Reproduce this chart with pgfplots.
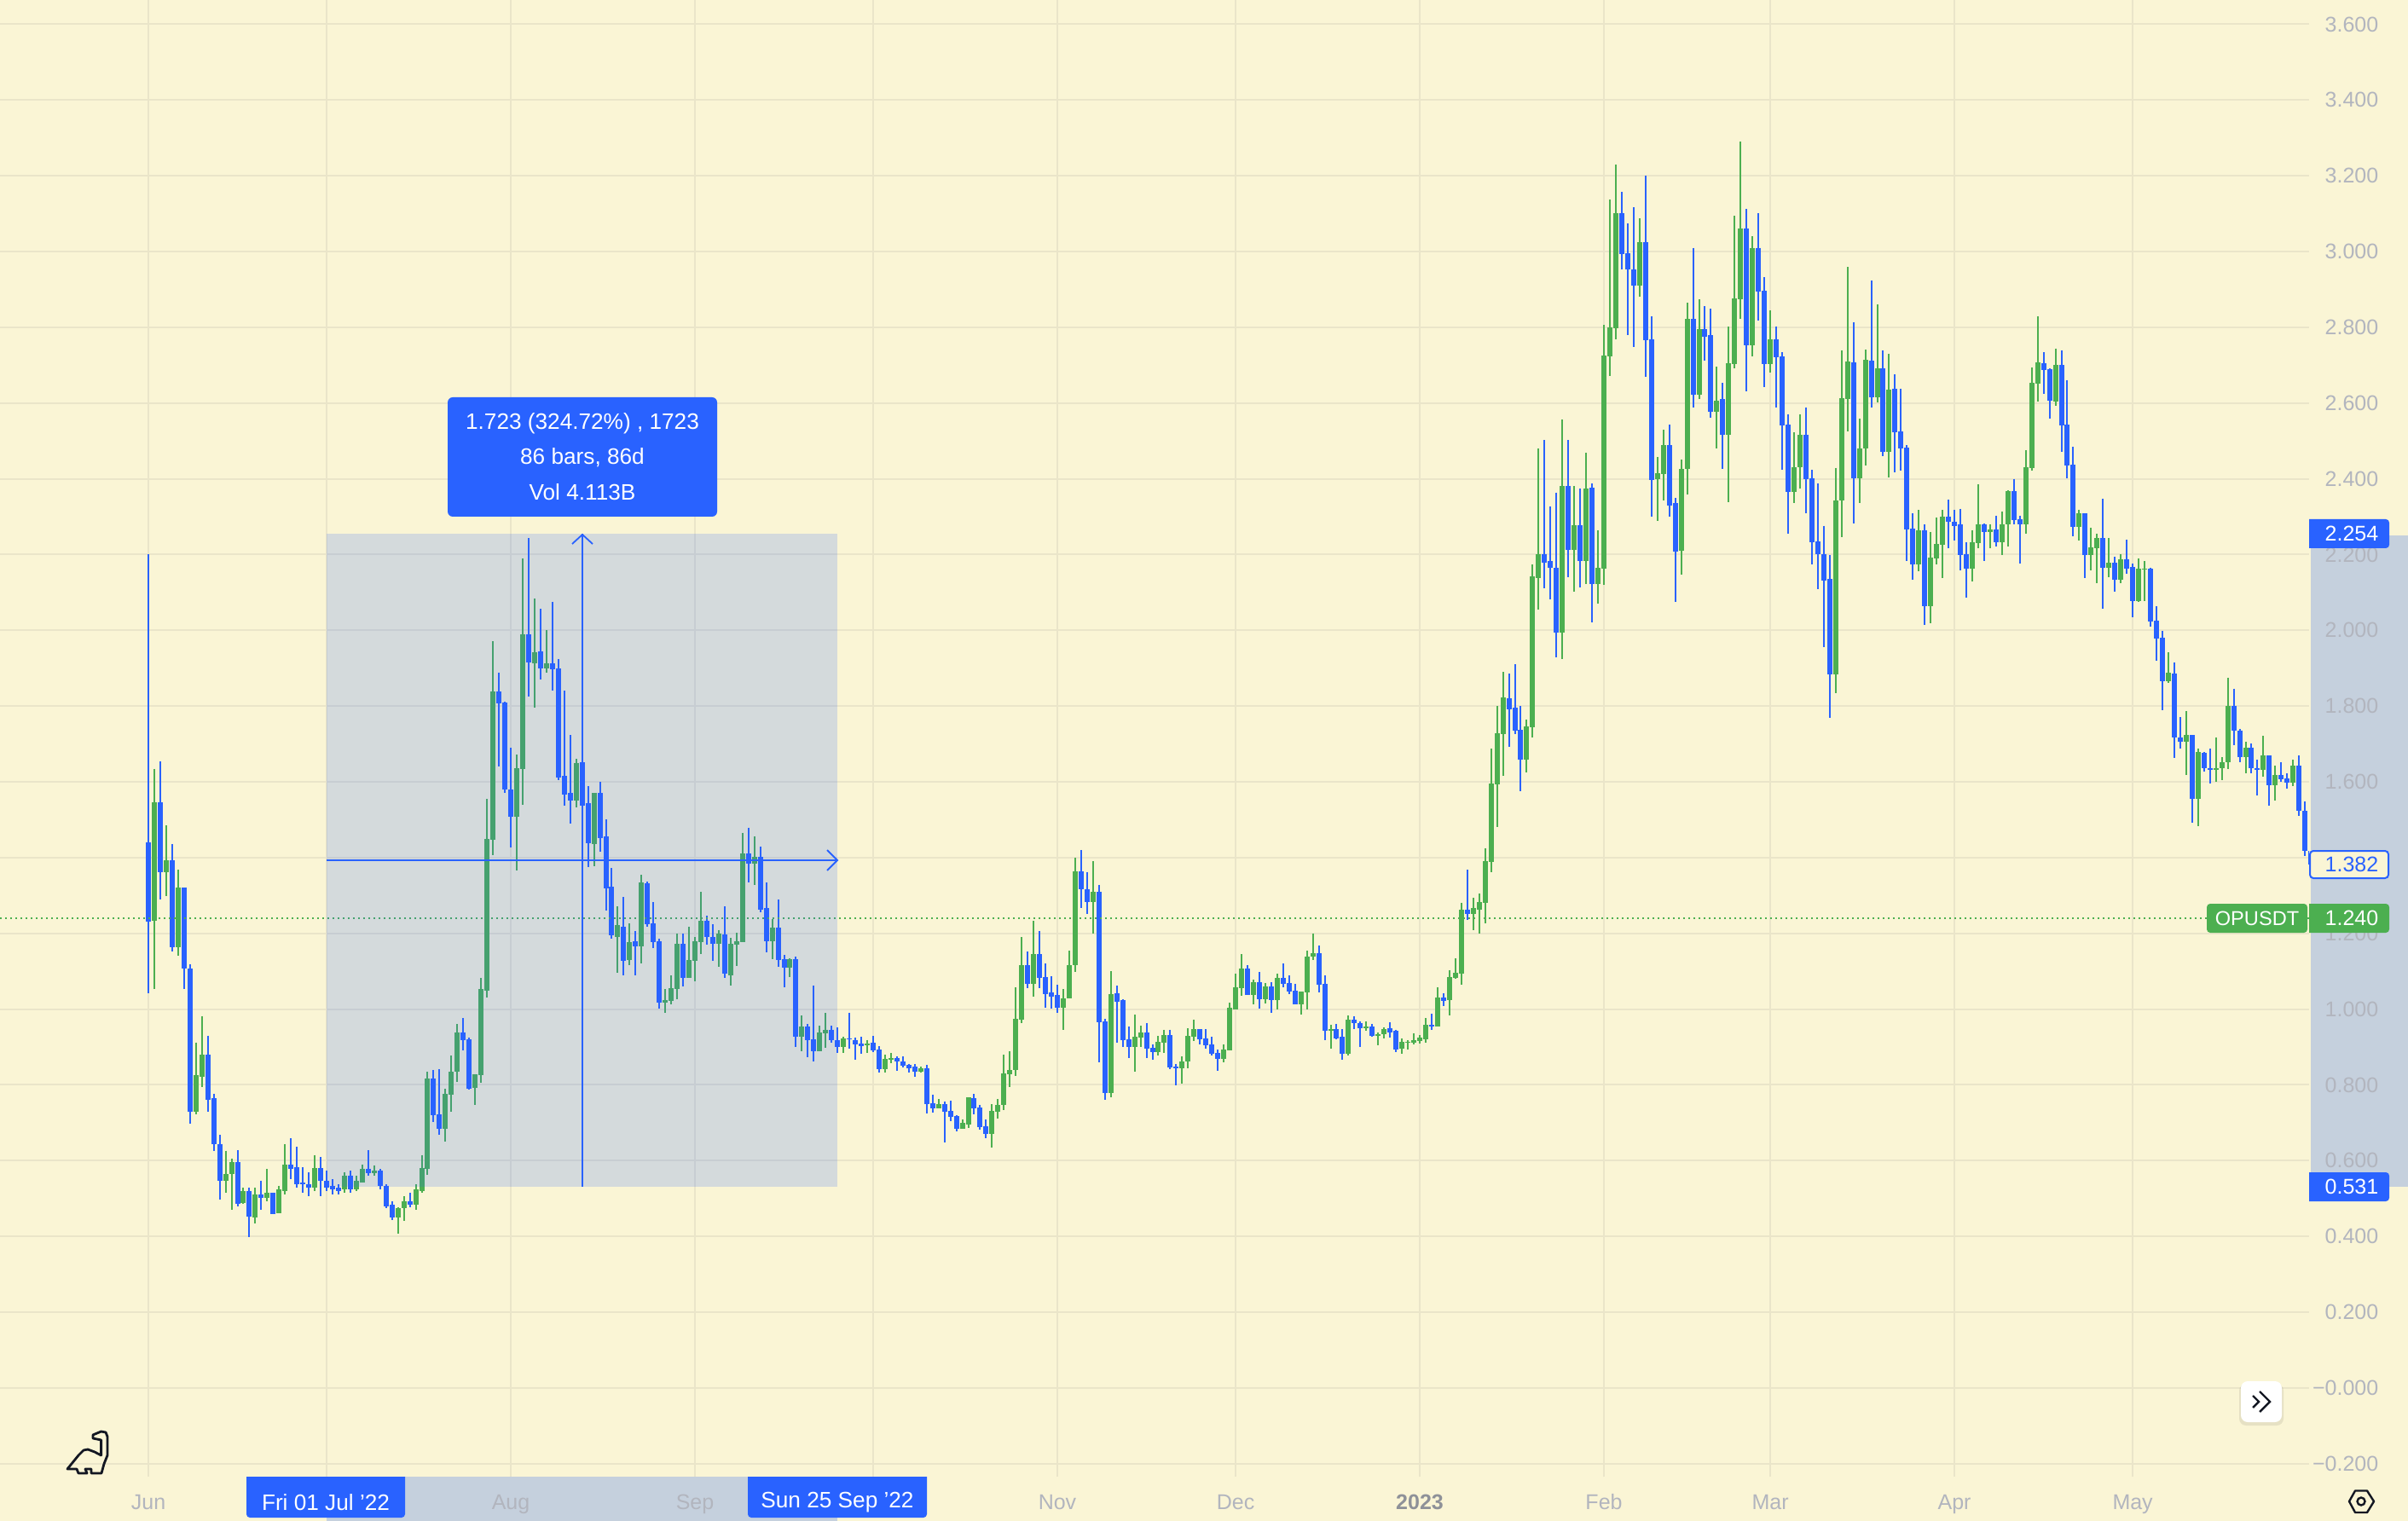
\documentclass[border=0pt]{standalone}
\usepackage{fontspec}
\setmainfont{Liberation Sans}
\usepackage{pgfplots}
\usepackage{pgfplotstable}
\pgfplotsset{compat=1.18}
\definecolor{bg}{HTML}{FAF5D5}
\definecolor{tvblue}{HTML}{2962FF}
\definecolor{tvgreen}{HTML}{4CAF50}
\definecolor{gridc}{HTML}{EAE5C9}
\definecolor{axc}{HTML}{B2B5BE}
\definecolor{band}{HTML}{C5D0DD}
\definecolor{ink}{HTML}{131722}
\newcommand{\labfont}{\fontsize{6.25}{7.5}\selectfont}
\newcommand{\tagfont}{\fontsize{6.55}{8}\selectfont}

% d = days since 1 Jun 2022; hi, body top, body bottom, lo
\pgfplotstableread{
d hi top bot lo
1 1.634 1.546 1.234 1.052
3 1.485 1.392 1.361 1.298
5 1.368 1.321 1.164 1.141
8 0.912 0.825 0.729 0.723
9 0.982 0.880 0.822 0.795
13 0.626 0.565 0.546 0.514
14 0.604 0.595 0.564 0.471
16 0.529 0.519 0.489 0.486
18 0.529 0.510 0.449 0.435
20 0.577 0.516 0.501 0.492
22 0.534 0.523 0.462 0.462
23 0.644 0.590 0.520 0.511
28 0.615 0.581 0.528 0.519
33 0.570 0.561 0.523 0.514
35 0.559 0.546 0.523 0.519
36 0.590 0.579 0.541 0.541
38 0.588 0.574 0.566 0.559
42 0.477 0.475 0.449 0.406
43 0.505 0.493 0.474 0.441
45 0.537 0.523 0.483 0.471
46 0.615 0.581 0.520 0.516
47 0.834 0.816 0.578 0.562
50 0.789 0.776 0.683 0.650
51 0.877 0.834 0.774 0.730
52 0.960 0.939 0.834 0.807
55 0.829 0.827 0.791 0.746
56 1.082 1.052 0.826 0.805
57 1.554 1.449 1.049 1.030
58 1.971 1.838 1.446 1.406
62 1.671 1.635 1.507 1.365
63 2.190 1.990 1.633 1.540
65 2.083 1.943 1.913 1.795
67 2.000 1.912 1.899 1.889
72 1.660 1.650 1.551 1.532
75 1.570 1.570 1.435 1.378
79 1.271 1.221 1.191 1.095
81 1.226 1.176 1.129 1.117
83 1.354 1.334 1.165 1.120
87 1.052 1.023 1.017 0.989
88 1.088 1.055 1.021 1.012
89 1.199 1.172 1.052 1.026
91 1.217 1.129 1.082 1.082
92 1.190 1.178 1.127 1.073
93 1.309 1.233 1.176 1.145
96 1.209 1.199 1.172 1.111
98 1.188 1.172 1.090 1.063
99 1.201 1.178 1.171 1.113
100 1.466 1.410 1.176 1.176
102 1.457 1.401 1.385 1.327
105 1.237 1.215 1.180 1.132
108 1.135 1.132 1.109 1.084
110 0.983 0.954 0.928 0.888
113 0.956 0.938 0.888 0.888
114 0.989 0.946 0.935 0.898
117 0.927 0.922 0.901 0.885
121 0.919 0.910 0.905 0.884
124 0.880 0.868 0.841 0.832
125 0.884 0.871 0.866 0.857
130 0.848 0.844 0.834 0.832
133 0.762 0.749 0.738 0.738
137 0.708 0.699 0.684 0.684
138 0.767 0.767 0.695 0.686
142 0.749 0.731 0.670 0.634
143 0.762 0.747 0.729 0.711
144 0.880 0.830 0.747 0.733
145 0.889 0.839 0.828 0.794
146 1.058 0.974 0.839 0.823
147 1.190 1.116 0.972 0.963
149 1.233 1.145 1.067 1.033
154 1.053 1.028 1.003 0.945
155 1.154 1.116 1.028 1.028
156 1.400 1.364 1.116 1.098
159 1.391 1.310 1.283 1.200
162 1.100 1.040 0.778 0.767
166 0.985 0.927 0.900 0.834
167 0.956 0.938 0.925 0.900
170 0.929 0.913 0.886 0.877
171 0.945 0.931 0.911 0.884
174 0.875 0.862 0.844 0.803
175 0.949 0.929 0.862 0.844
176 0.972 0.947 0.927 0.916
181 0.907 0.893 0.868 0.859
182 1.017 1.003 0.891 0.891
183 1.094 1.058 0.999 0.999
184 1.145 1.107 1.055 1.035
186 1.078 1.071 1.037 1.012
188 1.069 1.060 1.026 1.015
190 1.094 1.082 1.024 0.999
194 1.046 1.046 1.012 0.985
195 1.154 1.139 1.044 0.999
196 1.200 1.148 1.139 1.130
199 0.958 0.947 0.943 0.895
202 0.983 0.972 0.882 0.877
205 0.967 0.954 0.949 0.943
207 0.938 0.934 0.929 0.904
208 0.952 0.947 0.934 0.922
211 0.922 0.913 0.895 0.882
212 0.918 0.914 0.911 0.893
213 0.936 0.918 0.911 0.907
214 0.931 0.925 0.916 0.909
215 0.976 0.958 0.920 0.911
217 1.058 1.031 0.954 0.954
219 1.103 1.085 1.024 0.983
220 1.134 1.096 1.082 1.080
221 1.281 1.263 1.094 1.064
223 1.294 1.267 1.251 1.208
224 1.305 1.283 1.263 1.200
225 1.425 1.391 1.281 1.227
226 1.688 1.596 1.389 1.362
227 1.800 1.728 1.593 1.481
228 1.890 1.822 1.726 1.616
232 1.764 1.746 1.658 1.625
233 2.173 2.142 1.744 1.717
234 2.479 2.202 2.137 2.055
238 2.556 2.380 1.993 1.925
240 2.380 2.278 2.213 2.101
242 2.468 2.375 2.184 2.123
244 2.265 2.166 2.123 2.071
245 2.806 2.725 2.162 2.119
246 3.137 2.799 2.723 2.671
247 3.229 3.101 2.797 2.768
251 3.087 3.024 2.910 2.880
254 2.458 2.415 2.398 2.288
255 2.530 2.488 2.413 2.342
258 2.450 2.427 2.211 2.146
259 2.864 2.822 2.425 2.359
261 2.873 2.795 2.621 2.610
264 2.696 2.607 2.576 2.481
266 2.801 2.704 2.517 2.339
267 3.094 2.876 2.702 2.691
268 3.290 3.060 2.873 2.822
270 3.040 3.010 2.752 2.723
273 2.844 2.769 2.702 2.680
277 2.522 2.431 2.366 2.335
278 2.569 2.517 2.430 2.374
284 2.429 2.343 1.884 1.833
285 2.739 2.613 2.343 2.245
286 2.959 2.710 2.611 2.526
288 2.559 2.481 2.402 2.335
289 2.741 2.714 2.481 2.435
291 2.860 2.692 2.615 2.602
293 2.730 2.636 2.472 2.404
298 2.317 2.263 2.175 2.157
300 2.260 2.193 2.064 2.018
301 2.298 2.228 2.190 2.175
302 2.317 2.301 2.226 2.139
307 2.265 2.233 2.163 2.128
308 2.386 2.280 2.231 2.217
310 2.280 2.267 2.260 2.217
312 2.314 2.280 2.233 2.199
313 2.370 2.368 2.279 2.222
316 2.476 2.431 2.279 2.255
317 2.694 2.653 2.429 2.422
318 2.829 2.707 2.651 2.604
321 2.744 2.701 2.604 2.593
325 2.319 2.308 2.274 2.236
327 2.271 2.220 2.199 2.159
328 2.255 2.244 2.217 2.125
330 2.244 2.179 2.166 2.141
332 2.201 2.188 2.134 2.125
335 2.190 2.163 2.078 2.074
336 2.182 2.163 2.161 2.078
340 1.941 1.887 1.865 1.861
343 1.786 1.723 1.705 1.618
345 1.687 1.678 1.556 1.482
348 1.717 1.637 1.631 1.600
349 1.665 1.651 1.635 1.604
350 1.875 1.801 1.651 1.634
353 1.705 1.691 1.666 1.622
356 1.721 1.669 1.631 1.614
358 1.642 1.617 1.592 1.550
361 1.658 1.642 1.598 1.588
}\greenbars

\pgfplotstableread{
d hi top bot lo
0 2.200 1.440 1.231 1.041
2 1.654 1.546 1.361 1.290
4 1.436 1.392 1.164 1.152
6 1.321 1.321 1.107 1.052
7 1.119 1.107 0.729 0.698
10 0.930 0.880 0.761 0.729
11 0.777 0.764 0.644 0.626
12 0.668 0.644 0.546 0.498
15 0.628 0.595 0.486 0.480
17 0.529 0.520 0.452 0.397
19 0.547 0.510 0.501 0.471
21 0.516 0.516 0.459 0.459
24 0.658 0.590 0.579 0.552
25 0.637 0.583 0.538 0.529
26 0.583 0.541 0.537 0.516
27 0.568 0.537 0.528 0.507
29 0.610 0.581 0.546 0.507
30 0.574 0.547 0.529 0.519
31 0.550 0.532 0.523 0.510
32 0.537 0.528 0.520 0.511
34 0.573 0.561 0.523 0.516
37 0.628 0.579 0.566 0.559
39 0.577 0.573 0.532 0.525
40 0.537 0.534 0.480 0.474
41 0.492 0.483 0.449 0.444
44 0.514 0.493 0.483 0.476
48 0.839 0.816 0.721 0.701
49 0.841 0.722 0.683 0.668
53 0.976 0.939 0.918 0.890
54 0.924 0.920 0.790 0.788
59 1.889 1.838 1.806 1.640
60 1.811 1.809 1.580 1.570
61 1.689 1.580 1.507 1.427
64 2.243 1.990 1.916 1.824
66 2.056 1.945 1.899 1.870
68 2.076 1.912 1.896 1.840
69 1.924 1.899 1.612 1.604
70 1.840 1.615 1.567 1.537
71 1.723 1.570 1.551 1.489
73 1.702 1.651 1.538 1.511
74 1.588 1.543 1.437 1.374
76 1.599 1.570 1.452 1.415
77 1.500 1.455 1.318 1.260
78 1.372 1.322 1.194 1.185
80 1.295 1.218 1.127 1.090
82 1.205 1.178 1.165 1.090
84 1.337 1.332 1.223 1.218
85 1.282 1.226 1.176 1.162
86 1.185 1.178 1.016 1.001
90 1.199 1.172 1.082 1.059
94 1.246 1.233 1.191 1.170
95 1.223 1.191 1.172 1.127
97 1.271 1.196 1.093 1.082
101 1.479 1.412 1.385 1.335
103 1.430 1.401 1.263 1.255
104 1.334 1.266 1.180 1.149
106 1.289 1.215 1.129 1.111
107 1.143 1.132 1.109 1.057
109 1.138 1.132 0.928 0.901
111 0.960 0.954 0.917 0.874
112 1.063 0.920 0.888 0.861
115 0.956 0.946 0.917 0.911
116 0.951 0.917 0.901 0.884
118 0.991 0.922 0.920 0.895
119 0.925 0.919 0.907 0.866
120 0.927 0.909 0.902 0.882
122 0.929 0.911 0.891 0.886
123 0.902 0.893 0.841 0.832
126 0.875 0.871 0.862 0.837
127 0.875 0.862 0.850 0.846
128 0.855 0.852 0.844 0.832
129 0.855 0.848 0.834 0.821
131 0.852 0.844 0.749 0.724
132 0.774 0.751 0.738 0.726
134 0.756 0.749 0.729 0.647
135 0.758 0.731 0.715 0.704
136 0.720 0.717 0.684 0.677
139 0.776 0.765 0.738 0.722
140 0.747 0.740 0.688 0.681
141 0.708 0.690 0.670 0.659
148 1.152 1.116 1.067 1.055
150 1.206 1.145 1.082 1.055
151 1.121 1.085 1.040 1.003
152 1.087 1.044 1.033 1.001
153 1.064 1.037 1.003 0.990
157 1.420 1.364 1.317 1.267
158 1.362 1.317 1.283 1.251
160 1.328 1.310 0.965 0.859
161 0.974 0.967 0.778 0.760
163 1.062 1.042 1.019 0.911
164 1.026 1.024 0.918 0.900
165 0.954 0.920 0.900 0.871
168 0.963 0.938 0.895 0.871
169 0.907 0.898 0.886 0.866
172 0.945 0.931 0.846 0.841
173 0.855 0.848 0.844 0.798
177 0.947 0.947 0.920 0.907
178 0.947 0.922 0.904 0.895
179 0.927 0.907 0.882 0.877
180 0.893 0.884 0.868 0.837
185 1.116 1.107 1.037 1.037
187 1.098 1.071 1.026 1.001
189 1.071 1.060 1.024 0.990
191 1.121 1.082 1.067 1.058
192 1.089 1.069 1.046 1.040
193 1.067 1.049 1.012 1.012
197 1.168 1.148 1.064 1.044
198 1.089 1.067 0.943 0.918
200 0.961 0.947 0.922 0.920
201 0.947 0.927 0.882 0.866
203 0.981 0.972 0.963 0.947
204 0.967 0.963 0.949 0.900
206 0.961 0.954 0.929 0.927
209 0.965 0.949 0.938 0.925
210 0.945 0.943 0.893 0.886
216 0.988 0.958 0.954 0.945
218 1.042 1.031 1.022 1.008
222 1.368 1.263 1.251 1.236
229 1.885 1.820 1.791 1.692
230 1.910 1.796 1.735 1.726
231 1.800 1.737 1.658 1.575
235 2.502 2.200 2.179 2.112
236 2.326 2.182 2.164 2.082
237 2.364 2.166 1.993 1.929
239 2.502 2.380 2.213 2.141
241 2.375 2.278 2.184 2.114
243 2.388 2.377 2.123 2.020
248 3.157 3.101 2.993 2.952
249 3.074 2.995 2.952 2.779
250 3.117 2.952 2.910 2.749
252 3.200 3.024 2.765 2.669
253 2.830 2.768 2.396 2.301
256 2.544 2.488 2.330 2.301
257 2.350 2.335 2.208 2.074
260 3.010 2.822 2.621 2.587
262 2.855 2.795 2.776 2.711
263 2.849 2.779 2.576 2.562
265 2.653 2.610 2.516 2.425
269 3.112 3.060 2.752 2.630
271 3.101 3.010 2.895 2.817
272 2.932 2.896 2.702 2.642
274 2.803 2.769 2.720 2.589
275 2.734 2.723 2.540 2.423
276 2.571 2.543 2.366 2.254
279 2.589 2.517 2.400 2.310
280 2.423 2.402 2.232 2.173
281 2.388 2.234 2.200 2.109
282 2.276 2.202 2.132 1.956
283 2.198 2.135 1.884 1.769
287 2.814 2.707 2.402 2.282
290 2.924 2.712 2.615 2.588
292 2.739 2.692 2.470 2.460
294 2.676 2.638 2.523 2.418
295 2.638 2.526 2.481 2.422
296 2.489 2.483 2.267 2.184
297 2.308 2.269 2.175 2.134
299 2.279 2.263 2.064 2.015
303 2.346 2.301 2.287 2.217
304 2.317 2.287 2.276 2.236
305 2.321 2.279 2.199 2.159
306 2.233 2.201 2.163 2.087
309 2.282 2.280 2.260 2.182
311 2.303 2.267 2.233 2.222
314 2.400 2.368 2.290 2.280
315 2.303 2.294 2.279 2.177
319 2.734 2.705 2.688 2.624
320 2.692 2.690 2.607 2.559
322 2.739 2.701 2.541 2.470
323 2.661 2.543 2.435 2.402
324 2.485 2.438 2.274 2.249
326 2.308 2.308 2.199 2.137
329 2.348 2.244 2.166 2.056
331 2.195 2.179 2.134 2.102
333 2.240 2.188 2.163 2.150
334 2.177 2.168 2.078 2.035
337 2.166 2.163 2.024 2.010
338 2.064 2.026 1.979 1.919
339 1.999 1.981 1.865 1.790
341 1.916 1.885 1.716 1.662
342 1.771 1.718 1.705 1.687
344 1.723 1.723 1.556 1.491
346 1.678 1.676 1.635 1.626
347 1.687 1.637 1.631 1.596
351 1.846 1.801 1.734 1.696
352 1.740 1.736 1.666 1.651
354 1.701 1.691 1.635 1.622
355 1.658 1.637 1.631 1.564
357 1.669 1.669 1.590 1.537
359 1.651 1.617 1.606 1.600
360 1.622 1.608 1.598 1.582
362 1.669 1.642 1.523 1.510
363 1.549 1.523 1.418 1.404
364 1.418 1.418 1.382 1.382
}\bluebars

% wick and body of one colour
\newcommand{\candles}[2]{%
  \addplot[draw=none, mark=none, forget plot,
    error bars/.cd, y dir=minus, y explicit, error mark=none,
    error bar style={line width=0.5pt, color=#2}]
    table[x=d, y=hi, y error minus expr=\thisrow{hi}-\thisrow{lo}] {#1};
  \addplot[draw=none, mark=none, forget plot,
    error bars/.cd, y dir=minus, y explicit, error mark=none,
    error bar style={line width=1.5pt, color=#2}]
    table[x=d, y=top, y error minus expr=\thisrow{top}-\thisrow{bot}] {#1};
}

% right-hand price tag: y in px, colour, text
\newcommand{\pricetag}[3]{%
  \fill[#2] (2708,#1-17) [rounded corners=1pt] -- (2802,#1-17) -- (2802,#1+17) [sharp corners] -- (2708,#1+17) -- cycle;
  \node[anchor=east, inner sep=0pt, text=white, font=\labfont] at (2790,#1) {#3};
}

\begin{document}
\begin{tikzpicture}
\path[use as bounding box] (0,0) rectangle (706pt,-446pt);
% page and the pale bands of the measure, all in reference px
\begin{scope}[x=0.25pt, y=-0.25pt]
  \fill[bg] (-8,-8) rectangle (2832,1792);
  \fill[band] (2710,628) rectangle (2832,1392);
  \fill[band] (383,1732) rectangle (982,1792);
\end{scope}

\begin{axis}[
    at={(0,0)}, anchor=north west,
    scale only axis, width=677pt, height=433pt,
    xmin=-24.975, xmax=363.7,
    ymin=-0.2345, ymax=3.664,
    axis line style={draw=none},
    major tick length=0pt,
    tick style={draw=none},
    grid=major,
    grid style={color=gridc, line width=0.5pt},
    xtick={0,30,61,92,122,153,183,214,245,273,304,334},
    xticklabels={Jun,,Aug,Sep,,Nov,Dec,{\textcolor{axc!80!black}{\textbf{2023}}},Feb,Mar,Apr,May},
    ytick={-0.2,0,0.2,0.4,0.6,0.8,1,1.2,1.4,1.6,1.8,2,2.2,2.4,2.6,2.8,3,3.2,3.4,3.6},
    yticklabels={−0.200,−0.000,0.200,0.400,0.600,0.800,1.000,1.200,,1.600,1.800,2.000,2.200,2.400,2.600,2.800,3.000,3.200,3.400,3.600},
    yticklabel pos=right,
    ticklabel style={font=\labfont, text=axc, inner sep=0pt},
    yticklabel style={anchor=east, xshift=20.5pt},
    xticklabel style={anchor=base, yshift=-9.6pt},
  ]
  \candles{\greenbars}{tvgreen}
  \candles{\bluebars}{tvblue}
  % last price line
  \addplot[tvgreen, line width=0.5pt, dash pattern=on 0.5pt off 1pt, forget plot] coordinates {(-24.975,1.24) (363.7,1.24)};
  % measure box and its arrows
  \addplot[draw=none, fill=tvblue, fill opacity=0.18, forget plot] coordinates {(30,0.531) (116,0.531) (116,2.254) (30,2.254)} --cycle;
  \addplot[tvblue, line width=0.45pt, forget plot] coordinates {(30,1.3925) (116,1.3925)};
  \addplot[tvblue, line width=0.45pt, forget plot] coordinates {(73,0.531) (73,2.254)};
\end{axis}

\begin{scope}[x=0.25pt, y=-0.25pt]
  % arrow heads
  \draw[tvblue, line width=0.45pt] (970,997) -- (982,1009) -- (970,1021);
  \draw[tvblue, line width=0.45pt] (671,638) -- (683,627) -- (695,638);
  % measure tooltip
  \fill[tvblue, rounded corners=1.5pt] (525,466) rectangle (841,606);
  \node[text=white, font=\tagfont] at (683,497) {1.723 (324.72\%) , 1723};
  \node[text=white, font=\tagfont] at (683,537) {86 bars, 86d};
  \node[text=white, font=\tagfont] at (683,577) {Vol 4.113B};
  % price tags
  \pricetag{626}{tvblue}{2.254}
  \pricetag{1392}{tvblue}{0.531}
  \pricetag{1077}{tvgreen}{1.240}
  \fill[bg, draw=tvblue, line width=0.5pt, rounded corners=1pt] (2709,998) rectangle (2801,1030);
  \node[anchor=east, inner sep=0pt, text=tvblue, font=\labfont] at (2790,1014) {1.382};
  \fill[tvgreen, rounded corners=1pt] (2588,1060) rectangle (2706,1094);
  \node[text=white, font=\fontsize{5.9}{7}\selectfont] at (2647,1077) {OPUSDT};
  % date tags
  \fill[tvblue] (289,1732) -- (475,1732) [rounded corners=1pt] -- (475,1780) -- (289,1780) [sharp corners] -- cycle;
  \node[text=white, font=\tagfont] at (382,1762) {Fri 01 Jul '22};
  \fill[tvblue] (877,1732) -- (1087,1732) [rounded corners=1pt] -- (1087,1780) -- (877,1780) [sharp corners] -- cycle;
  \node[text=white, font=\tagfont] at (982,1762) {Sun 25 Sep '22};
  % logo
  \draw[ink, line width=0.7pt, line join=round]
    (118.6,1679) -- (124,1680) -- (126,1685) -- (126,1707) -- (122,1717) -- (119,1728) -- (107,1728) -- (107,1723)
    -- (100,1723) -- (102,1728) -- (92,1728) -- (90,1723) -- (79,1723) -- (92,1707) -- (98,1701) -- (103,1700)
    -- (111,1703) -- (118.6,1707) -- (118.6,1689) -- (109,1687) -- (109,1683) -- cycle;
  % scroll button
  \fill[black, opacity=0.08, rounded corners=2pt] (2626,1623) rectangle (2678,1672);
  \fill[white, rounded corners=2pt] (2628,1620) rectangle (2676,1668);
  \draw[ink, line width=0.6pt] (2642,1637) -- (2649,1644) -- (2642,1651);
  \draw[ink, line width=0.6pt] (2650,1632) -- (2662,1644) -- (2650,1656);
  % settings hexagon
  \draw[ink, line width=0.6pt, line join=round] (2755,1761) -- (2762,1748.5) -- (2776,1748.5) -- (2784,1761) -- (2776,1774) -- (2762,1774) -- cycle;
  \draw[ink, line width=0.6pt] (2769,1761) circle[radius=4.5];
\end{scope}
\end{tikzpicture}
\end{document}
